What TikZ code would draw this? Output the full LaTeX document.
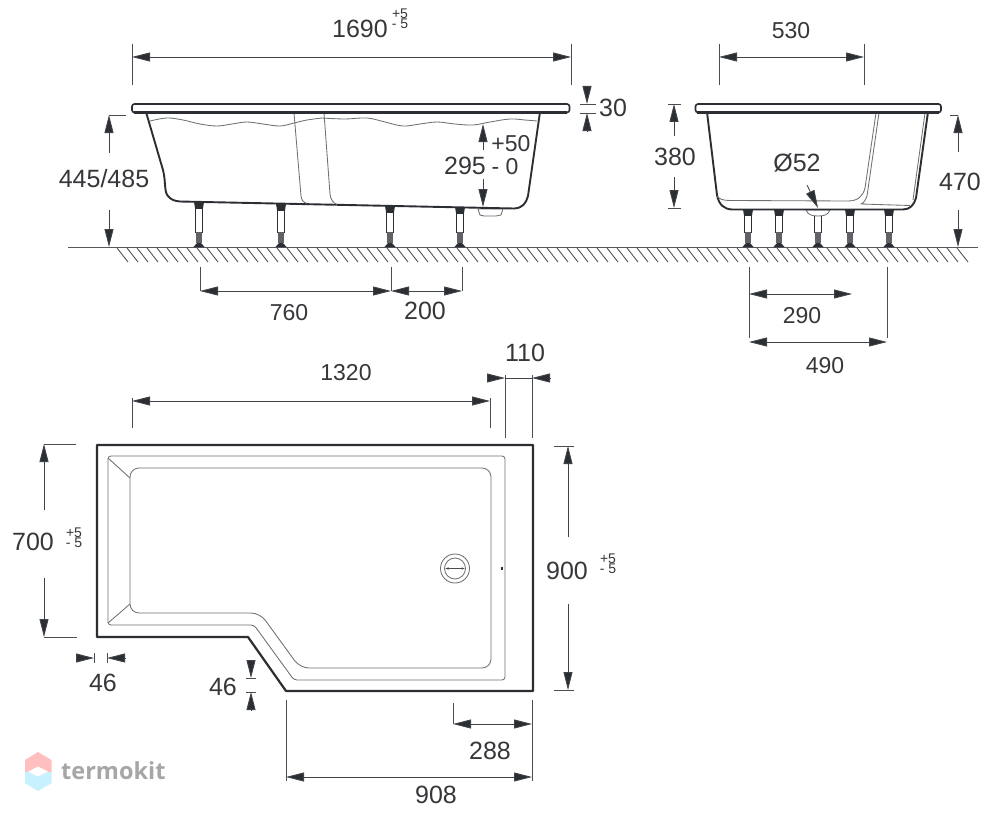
\documentclass[tikz,border=0pt]{standalone}
\usepackage{fontspec}
\setmainfont{Liberation Sans}
\newfontfamily\wmfont{Open Sans}
\usetikzlibrary{arrows.meta}
\definecolor{ink}{HTML}{2B2E33}
\definecolor{txt}{HTML}{35373A}
\definecolor{thin}{HTML}{6E7072}
\tikzset{
  x=1pt,y=-1pt,
  tubeline/.style={draw=ink,line width=1.9pt,line join=round},
  fineline/.style={draw=thin,line width=0.85pt,line join=round},
  extline/.style={draw=ink!85,line width=0.85pt},
  dimline/.style={draw=ink!90,line width=0.85pt},
  tip/.style={-{Triangle[length=18pt,width=9pt,fill=ink]}},
  tipb/.style={{Triangle[length=18pt,width=9pt,fill=ink]}-{Triangle[length=18pt,width=9pt,fill=ink]}},
  lbl/.style={font=\fontsize{25}{25}\selectfont,text=txt,inner sep=0pt,text height=18pt,text depth=0pt},
  lblmid/.style={font=\fontsize{23}{23}\selectfont,text=txt,inner sep=0pt,text height=16.5pt,text depth=0pt},
  small/.style={font=\fontsize{14}{14}\selectfont,text=txt,inner sep=0pt,text height=10pt,text depth=0pt},
}
\newcommand\legat[2]{%
  \fill[ink] (#1-5,#2) -- (#1+5,#2) -- (#1+4,#2+6) -- (#1-4,#2+6) -- cycle;
  \draw[ink,line width=0.9pt,fill=white] (#1-3.6,#2+6) rectangle (#1+3.6,232);
  \fill[ink!75] (#1-3,232) rectangle (#1+3,243);
  \fill[ink] (#1-2,243) -- (#1+2,243) -- (#1+5.5,247) -- (#1-5.5,247) -- cycle;
}
\begin{document}
\begin{tikzpicture}
\useasboundingbox (0,0) rectangle (997,816);
\fill[white] (0,0) rectangle (997,816);

% watermark
\fill[pink!70!white,fill=red!25!white] (38,752) -- (51.5,760) -- (51.5,772) -- (25,772) -- (25,760) -- cycle;
\fill[blue!25!cyan!22!white] (25,772) -- (51.5,772) -- (51.5,783) -- (38,791) -- (25,783) -- cycle;
\fill[white] (38,766.5) -- (48,771.5) -- (38,776.5) -- (28,771.5) -- cycle;
\node[inner sep=0pt,font=\wmfont\bfseries\fontsize{23.5}{24}\selectfont,text=black!35,anchor=base west] (wm) at (61,779) {termokit};

% ground
\draw[draw=ink!80,line width=1pt] (68,247) -- (978,247);
\foreach \x in {117,127,...,965}{
  \draw[draw=ink!85,line width=0.85pt] (\x,248) -- (\x+11,262);
}

% ---------- side view ----------
\foreach \x/\y in {199/202,281/204,390/206,460/207}{\legat{\x}{\y}}
\draw[fineline,fill=white] (478,209) -- (503,209) -- (501,215) -- (496,216) -- (484,216) -- (480,215) -- cycle;
\draw[tubeline,fill=white] (146,112) -- (163,170) .. controls (166,182) and (164,192) .. (168,196)
  .. controls (171,200) and (175,201) .. (180,201.5) -- (514,208.5)
  .. controls (523,208) and (526,203) .. (528,196) -- (540,112);
\draw[fineline] plot[smooth,tension=0.6] coordinates {(150,121) (167,118) (183,120) (200,124) (217,126) (232,124) (247,122) (263,124) (280,126) (294,123) (307,120) (322,118)};
\draw[fineline] plot[smooth,tension=0.6] coordinates {(322,118) (345,119) (367,118) (385,122) (403,126) (420,124) (437,122) (455,124) (473,125) (490,122) (510,119) (525,120) (537,121)};
\draw[fineline] (294,113) -- (301,196) .. controls (301.5,200) and (303,202) .. (307,203.5);
\draw[fineline] (324,113) -- (330,194) .. controls (330.5,199) and (333,203) .. (337,204.5);
\draw[draw=ink,line width=1.6pt,fill=white,rounded corners=2.5pt] (132,104) rectangle (569.5,112.5);
\draw[draw=ink,line width=2.2pt] (134,112.5) -- (567,112.5);

% ---------- end view ----------
\foreach \x in {748,779,818,850,889}{\legat{\x}{209.5}}
\draw[fineline,fill=white] (806,210) .. controls (808,215) and (812,216) .. (818,216) .. controls (824,216) and (828,215) .. (830,210) -- cycle;
\draw[tubeline,fill=white] (707,112) -- (717,195) .. controls (719,205) and (724,209) .. (732,209.5)
  -- (903,209.5) .. controls (910,209.5) and (914,205) .. (916,198) -- (928,112);
\draw[fineline] (717,196) .. controls (719,199) and (723,200.5) .. (730,200.5) -- (848,201)
  .. controls (858,201) and (863,196) .. (865,188) -- (876,113);
\draw[fineline] (879,113) -- (867,196) .. controls (866,199) and (864,203) .. (861,204) -- (910,205.5);
\draw[fineline] (925,113) -- (913,200);
\draw[draw=ink,line width=1.6pt,fill=white,rounded corners=2.5pt] (695.5,104) rectangle (941,112.5);
\draw[draw=ink,line width=2.2pt] (697,112.5) -- (939,112.5);

% ---------- plan ----------
\draw[draw=ink,line width=2.2pt,line join=round] (97,445) -- (533,445) -- (533,691) -- (286,691) -- (248,637) -- (97,637) -- cycle;
\draw[fineline,rounded corners=3pt] (108,456) -- (505,456) -- (505,680) -- (294,680) -- (254,625) -- (108,625) -- cycle;
\draw[fineline,rounded corners=9pt] (130,468) -- (491,468) -- (491,668) -- (300,668) -- (260,613) -- (130,613) -- cycle;
\draw[fineline] (108,458) -- (130,478);
\draw[fineline] (108,623) -- (130,604);
\draw[fineline] (455,568.5) circle (14.5);
\draw[fineline] (455,568.5) circle (10.5);
\draw[draw=ink!85,line width=0.8pt,{Latex[length=4pt,width=2.5pt]}-{Latex[length=4pt,width=2.5pt]}] (444.5,568.5) -- (465.5,568.5);
\fill[ink] (500.5,567) rectangle (502.5,570);

% ---------- dimensions, side view ----------
\draw[extline] (132,44) -- (132,85);
\draw[extline] (571,44) -- (571,85);
\draw[dimline,tipb] (132,57) -- (571,57);
\node[lbl] (n1690) at (360,29) {1690};
\node[small] (n1690p) at (400,14) {+5};
\node[small] (n1690m) at (400,24) {- 5};

\draw[extline] (580,104) -- (596,104);
\draw[extline] (580,113) -- (596,113);
\draw[dimline,tip] (587,86) -- (587,104);
\draw[dimline,tip] (587,131) -- (587,113);
\node[lbl] (n30) at (613,108) {30};

\draw[extline] (109,115) -- (126,115);
\draw[dimline,tip] (109,153) -- (109,115);
\draw[dimline,tip] (109,210) -- (109,247);
\node[lbl] (n445) at (104,178) {445/485};

\draw[dimline,tip] (483,150) -- (483,124);
\draw[dimline,tip] (483,179) -- (483,207);
\node[lbl] (n295) at (465,166) {295};
\node[lblmid] (n50) at (511,143) {+50};
\node[lblmid] (n0) at (505,166) {- 0};

\draw[extline] (200,267) -- (200,291);
\draw[extline] (391,267) -- (391,291);
\draw[extline] (462,267) -- (462,291);
\draw[dimline,tipb] (200,291) -- (391,291);
\draw[dimline,tipb] (391,291) -- (462,291);
\node[lblmid] (n760) at (289,312) {760};
\node[lbl] (n200) at (425,310) {200};

% ---------- dimensions, end view ----------
\draw[extline] (719,44) -- (719,85);
\draw[extline] (864,44) -- (864,85);
\draw[dimline,tipb] (719,57) -- (864,57);
\node[lblmid] (n530) at (791,30) {530};

\draw[extline] (668,104) -- (681,104);
\draw[extline] (668,208) -- (681,208);
\draw[dimline,tip] (674,136) -- (674,104);
\draw[dimline,tip] (674,177) -- (674,208);
\node[lbl] (n380) at (675,156) {380};

\draw[extline] (950,115) -- (958,115);
\draw[dimline,tip] (958,152) -- (958,115);
\draw[dimline,tip] (958,210) -- (958,247);
\node[lbl] (n470) at (960,181) {470};

\node[lbl] (n52) at (797,162) {Ø52};
\draw[dimline,tip] (807,185) -- (818,208);

\draw[extline] (749,267) -- (749,338);
\draw[extline] (887,267) -- (887,338);
\draw[dimline,tipb] (749,294) -- (852,294);
\draw[dimline,tipb] (749,342) -- (887,342);
\node[lblmid] (n290) at (802,315) {290};
\node[lblmid] (n490) at (825,365) {490};

% ---------- dimensions, plan ----------
\draw[extline] (132,398) -- (132,428);
\draw[extline] (490,398) -- (490,428);
\draw[dimline,tipb] (132,401) -- (490,401);
\node[lblmid] (n1320) at (346,372) {1320};

\draw[extline] (505,375) -- (505,438);
\draw[extline] (532,375) -- (532,438);
\draw[dimline] (505,378) -- (532,378);
\draw[dimline,tip] (487,378) -- (505,378);
\draw[dimline,tip] (550,378) -- (532,378);
\node[lbl] (n110) at (525,352) {110};

\draw[extline] (44,444) -- (76,444);
\draw[extline] (44,637) -- (77,637);
\draw[dimline,tip] (44,510) -- (44,444);
\draw[dimline,tip] (44,578) -- (44,637);
\node[lbl] (n700) at (33,541) {700};
\node[small] (n700p) at (74,532) {+5};
\node[small] (n700m) at (74,542) {- 5};

\draw[extline] (554,446) -- (574,446);
\draw[extline] (554,690) -- (574,690);
\draw[dimline,tip] (568,537) -- (568,446);
\draw[dimline,tip] (568,604) -- (568,690);
\node[lbl] (n900) at (567,570) {900};
\node[small] (n900p) at (608,558) {+5};
\node[small] (n900m) at (608,568) {- 5};

\draw[extline] (94,653) -- (94,663);
\draw[extline] (107,653) -- (107,663);
\draw[dimline,tip] (77,658) -- (94,658);
\draw[dimline,tip] (125,658) -- (107,658);
\node[lbl] (n46a) at (103,682) {46};

\draw[extline] (246,678) -- (256,678);
\draw[extline] (246,692) -- (256,692);
\draw[dimline,tip] (251,661) -- (251,678);
\draw[dimline,tip] (251,710) -- (251,692);
\node[lbl] (n46b) at (223,686) {46};

\draw[extline] (453,703) -- (453,724);
\draw[extline] (286,700) -- (286,781);
\draw[extline] (532,700) -- (532,781);
\draw[dimline,tipb] (453,724) -- (532,724);
\draw[dimline,tipb] (286,777) -- (532,777);
\node[lbl] (n288) at (490,750) {288};
\node[lbl] (n908) at (436,794) {908};
\end{tikzpicture}
\end{document}
